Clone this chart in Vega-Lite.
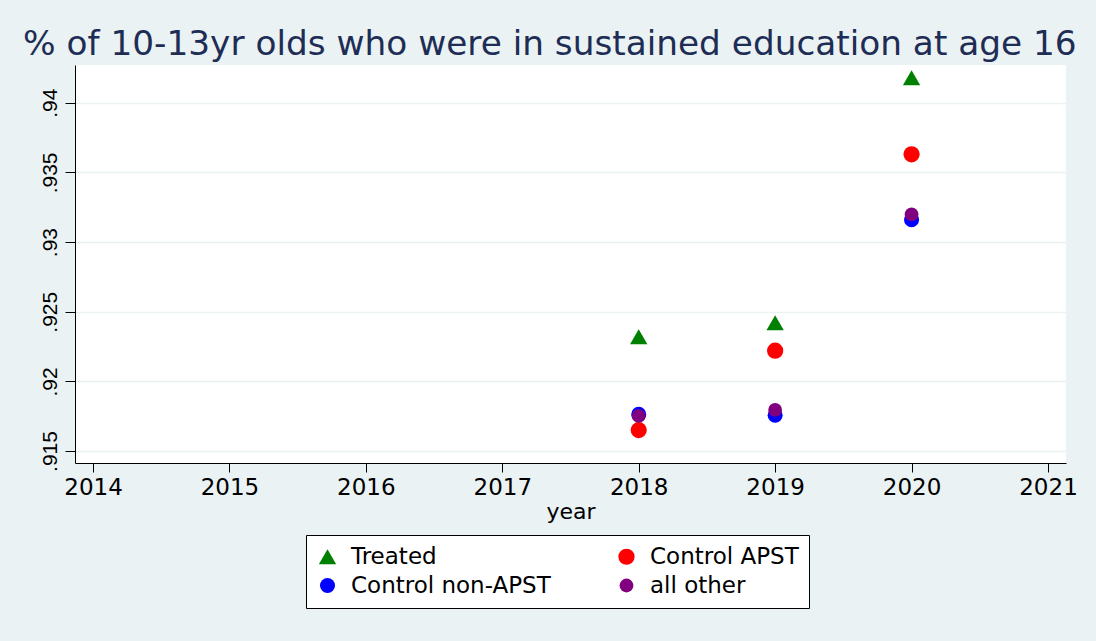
{
  "$schema": "https://vega.github.io/schema/vega-lite/v6.json",
  "autosize": "none",
  "padding": {"left": 75, "top": 65, "right": 30, "bottom": 178},
  "width": 991,
  "height": 398,
  "background": "#EAF2F3",
  "title": {
    "text": "% of 10-13yr olds who were in sustained education at age 16",
    "anchor": "start",
    "frame": "group",
    "dx": -52,
    "offset": 3,
    "font": "DejaVu Sans",
    "fontSize": 34.3,
    "fontWeight": "normal",
    "color": "#1E2D55"
  },
  "config": {
    "view": {"fill": "white", "stroke": null},
    "font": "DejaVu Sans"
  },
  "data": {
    "values": [
      {"year": 2018, "value": 0.9232, "series": "Treated"},
      {"year": 2019, "value": 0.9242, "series": "Treated"},
      {"year": 2020, "value": 0.9418, "series": "Treated"},
      {"year": 2018, "value": 0.9165, "series": "Control APST"},
      {"year": 2019, "value": 0.9222, "series": "Control APST"},
      {"year": 2020, "value": 0.9363, "series": "Control APST"},
      {"year": 2018, "value": 0.91763, "series": "Control non-APST"},
      {"year": 2019, "value": 0.91757, "series": "Control non-APST"},
      {"year": 2020, "value": 0.9316, "series": "Control non-APST"},
      {"year": 2018, "value": 0.91752, "series": "all other"},
      {"year": 2019, "value": 0.91795, "series": "all other"},
      {"year": 2020, "value": 0.93198, "series": "all other"}
    ]
  },
  "mark": {"type": "point", "filled": true, "opacity": 1},
  "encoding": {
    "x": {
      "field": "year",
      "type": "quantitative",
      "scale": {"domain": [2013.868, 2021.132], "nice": false, "zero": false},
      "axis": {
        "values": [2014, 2015, 2016, 2017, 2018, 2019, 2020, 2021],
        "format": "d",
        "grid": false,
        "domainColor": "black",
        "tickColor": "black",
        "tickSize": 9,
        "labelFont": "DejaVu Sans",
        "labelFontSize": 23,
        "labelColor": "black",
        "labelPadding": 4,
        "title": "year",
        "titleFont": "DejaVu Sans",
        "titleFontSize": 22,
        "titleFontWeight": "normal",
        "titleColor": "black",
        "titlePadding": 2
      }
    },
    "y": {
      "field": "value",
      "type": "quantitative",
      "scale": {"domain": [0.91414, 0.94271], "nice": false, "zero": false},
      "axis": {
        "values": [0.915, 0.92, 0.925, 0.93, 0.935, 0.94],
        "labelExpr": "substring(format(datum.value, '.3~f'), 1)",
        "grid": true,
        "gridColor": "#EAF2F3",
        "gridWidth": 1.5,
        "domainColor": "black",
        "tickColor": "black",
        "tickSize": 10,
        "labelFont": "Liberation Sans",
        "labelFontSize": 21,
        "labelColor": "black",
        "labelAngle": -90,
        "labelPadding": 5,
        "title": null
      }
    },
    "color": {
      "field": "series",
      "type": "nominal",
      "scale": {
        "domain": ["Treated", "Control APST", "Control non-APST", "all other"],
        "range": ["#008000", "#FF0000", "#0000FF", "#800080"]
      },
      "legend": {
        "title": null,
        "orient": "none",
        "legendX": 231,
        "legendY": 470,
        "direction": "horizontal",
        "columns": 2,
        "columnPadding": 64,
        "rowPadding": 5,
        "padding": 10,
        "fillColor": "white",
        "strokeColor": "black",
        "labelFont": "DejaVu Sans",
        "labelFontSize": 23,
        "labelColor": "black",
        "labelLimit": 400,
        "labelOffset": 12,
        "labelExpr": "datum.label == 'Control APST' ? datum.label + '\u2003\u2009' : datum.label",
        "symbolSize": 190,
        "symbolOpacity": 1
      }
    },
    "shape": {
      "field": "series",
      "type": "nominal",
      "scale": {
        "domain": ["Treated", "Control APST", "Control non-APST", "all other"],
        "range": ["triangle-up", "circle", "circle", "circle"]
      }
    },
    "size": {
      "field": "series",
      "type": "nominal",
      "scale": {
        "domain": ["Treated", "Control APST", "Control non-APST", "all other"],
        "range": [300, 190, 190, 190]
      }
    }
  }
}
